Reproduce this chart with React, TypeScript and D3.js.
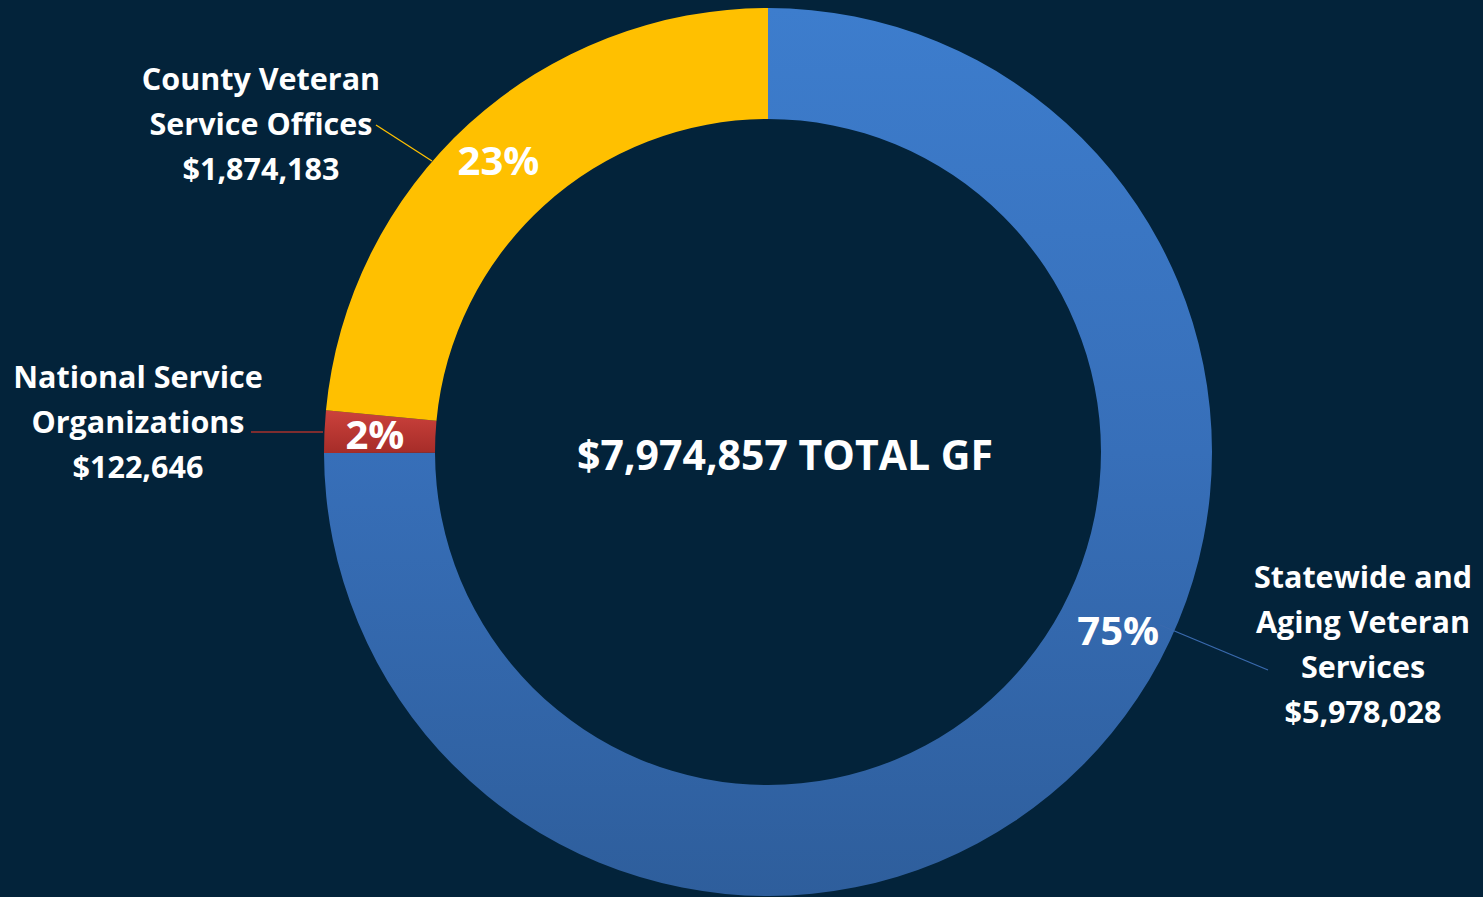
import React from "react";
import * as d3 from "d3";

const categories = [
  "Statewide and Aging Veteran Services",
  "National Service Organizations",
  "County Veteran Service Offices",
];
const values = [5978028, 122646, 1874183];
const labelLines = [
  ["Statewide and", "Aging Veteran", "Services", "$5,978,028"],
  ["National Service", "Organizations", "$122,646"],
  ["County Veteran", "Service Offices", "$1,874,183"],
];
const percentLabels = ["75%", "2%", "23%"];
const totalLabel = "$7,974,857 TOTAL GF";

const W = 1483;
const H = 897;
const BG = "#03233A";
const FONT = "'Open Sans', Lato, sans-serif";

export default function App() {
  const cx = 768;
  const cy = 452;
  const R = 444;
  const r = 333;

  const pie = d3.pie<number>().sort(null).value((d) => d).startAngle(0).endAngle(2 * Math.PI);
  const arcs = pie(values);
  const arcGen = d3.arc<d3.PieArcDatum<number>>().innerRadius(r).outerRadius(R);
  const fills = ["url(#gBlue)", "url(#gRed)", "#FFC000"];
  const leaderColors = ["#3A6AAE", "#A8322C", "#FFC000"];

  const mid = (r + R) / 2;
  const pctAngle = (i: number) => {
    if (i === 0) return (117 * Math.PI) / 180;
    return (arcs[i].startAngle + arcs[i].endAngle) / 2;
  };
  const polar = (a: number, rad: number) => [Math.sin(a) * rad, -Math.cos(a) * rad];

  const textBlocks = [
    { x: 1363, y: 588 },
    { x: 138, y: 388 },
    { x: 261, y: 90 },
  ];
  const leaders = [
    [[1160, 625], [1268, 670]],
    [[323, 432], [251, 432]],
    [[432, 161], [376, 125]],
  ];
  const pctOffsetX = [0, 1, -4];

  return (
    <svg width={W} height={H} style={{ display: "block", position: "absolute", left: 0, top: 0, background: BG }}>
      <defs>
        <linearGradient id="gBlue" gradientUnits="userSpaceOnUse" x1={0} y1={-R} x2={0} y2={R}>
          <stop offset="0" stopColor="#3D7DCD" />
          <stop offset="0.5" stopColor="#376FB9" />
          <stop offset="1" stopColor="#2E5E9C" />
        </linearGradient>
        <linearGradient id="gRed" gradientUnits="userSpaceOnUse" x1={0} y1={-42} x2={0} y2={2}>
          <stop offset="0" stopColor="#CC423C" />
          <stop offset="1" stopColor="#A52C28" />
        </linearGradient>
      </defs>
      <rect x={0} y={0} width={W} height={H} fill={BG} />
      <g transform={`translate(${cx},${cy})`}>
        {arcs.map((a, i) => (
          <path key={categories[i]} d={arcGen(a) || ""} fill={fills[i]} />
        ))}
      </g>
      {leaders.map((l, i) => (
        <line key={"l" + i} x1={l[0][0]} y1={l[0][1]} x2={l[1][0]} y2={l[1][1]} stroke={leaderColors[i]} strokeWidth={1.3} />
      ))}
      {arcs.map((a, i) => {
        const [px, py] = polar(pctAngle(i), i === 0 ? 393 : mid + 6);
        return (
          <text
            key={"p" + i}
            x={cx + px + pctOffsetX[i]}
            y={cy + py + 15}
            textAnchor="middle"
            fill="#fff"
            fontFamily={FONT}
            fontWeight={700}
            fontSize={40}
          >
            {percentLabels[i]}
          </text>
        );
      })}
      {textBlocks.map((b, i) => (
        <text key={"t" + i} x={b.x} y={b.y} textAnchor="middle" fill="#fff" fontFamily={FONT} fontWeight={700} fontSize={30.5}>
          {labelLines[i].map((ln, j) => (
            <tspan key={j} x={b.x} y={b.y + j * 45}>
              {ln}
            </tspan>
          ))}
        </text>
      ))}
      <text x={785} y={470} textAnchor="middle" fill="#fff" fontFamily={FONT} fontWeight={700} fontSize={41}>
        {totalLabel}
      </text>
    </svg>
  );
}
